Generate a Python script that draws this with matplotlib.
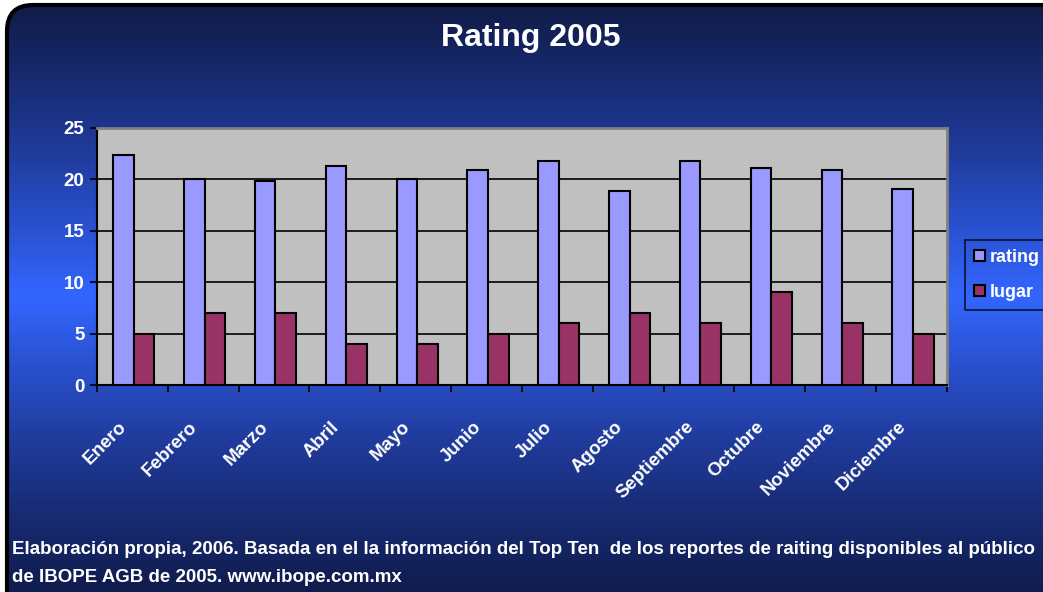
import numpy as np
import matplotlib.pyplot as plt
from matplotlib.colors import LinearSegmentedColormap
from matplotlib.patches import FancyBboxPatch

meses = ["Enero", "Febrero", "Marzo", "Abril", "Mayo", "Junio", "Julio",
         "Agosto", "Septiembre", "Octubre", "Noviembre", "Diciembre"]
rating = [22.4, 20.0, 19.8, 21.3, 20.0, 20.9, 21.8, 18.9, 21.8, 21.1, 20.9, 19.1]
lugar = [5, 7, 7, 4, 4, 5, 6, 7, 6, 9, 6, 5]

plt.rcParams['font.family'] = ['Liberation Sans', 'DejaVu Sans']
plt.rcParams['font.weight'] = 'bold'

fig = plt.figure(figsize=(10.43, 5.92), dpi=100, facecolor='white')
W, H = 1043, 592

# fondo con degradado y borde redondeado
bg = fig.add_axes([0, 0, 1, 1], zorder=-10)
bg.set_xlim(0, W)
bg.set_ylim(0, H)
bg.axis('off')
cmap = LinearSegmentedColormap.from_list(
    "fondo", [(0, "#101a44"), (0.25, "#1f3a99"), (0.5, "#3366ff"),
              (0.75, "#1f3a99"), (1, "#101c4c")])
grad = np.linspace(0, 1, 256).reshape(-1, 1)
caja = FancyBboxPatch((7, -40), W + 40, H + 40 - 5,
                      boxstyle="round,pad=0,rounding_size=26",
                      facecolor='none', edgecolor='black', linewidth=3,
                      transform=bg.transData, zorder=3)
bg.add_patch(caja)
img = bg.imshow(grad, cmap=cmap, aspect='auto', extent=[0, W, 0, H],
                origin='upper', zorder=1)
img.set_clip_path(caja)

ax = fig.add_axes([97 / W, 1 - 385 / H, (947 - 97) / W, (385 - 128) / H])
ax.set_facecolor('#c0c0c0')
x = np.arange(len(meses))
w = 0.29
ax.bar(x - w / 2 + 0.02, rating, w, color='#9999ff', edgecolor='black',
       linewidth=1.5, label='rating', zorder=3)
ax.bar(x + w / 2 + 0.02, lugar, w, color='#993366', edgecolor='black',
       linewidth=1.5, label='lugar', zorder=3)

ax.set_xlim(-0.5, len(meses) - 0.5)
ax.set_ylim(0, 25)
ax.set_yticks([0, 5, 10, 15, 20, 25])
ax.yaxis.grid(True, color='black', linewidth=1.2, zorder=1)
ax.set_axisbelow(True)
ax.set_xticks(np.arange(-0.5, len(meses)), minor=False)
ax.set_xticklabels([])
# etiquetas un poco a la izquierda del centro de cada grupo
ax.set_xticks(x - 0.2, minor=True)
ax.set_xticklabels(meses, minor=True, rotation=45, ha='right',
                   rotation_mode='anchor', color='white', fontsize=13.5,
                   fontweight='bold')
ax.tick_params(axis='x', which='minor', length=0, pad=24)
ax.tick_params(axis='x', which='major', length=5, color='black', width=1.2)
ax.tick_params(axis='y', length=5, color='black', width=1.2, labelcolor='white',
               labelsize=13.5, pad=4)
for t in ax.get_yticklabels():
    t.set_fontweight('bold')
for s in ['left', 'bottom']:
    ax.spines[s].set_color('black')
    ax.spines[s].set_linewidth(1.5)
for s in ['top', 'right']:
    ax.spines[s].set_color('#808080')
    ax.spines[s].set_linewidth(2)

leg = fig.legend(loc='upper left', bbox_to_anchor=(965 / W, 1 - 240 / H),
                 frameon=True, fontsize=13, handlelength=0.6, handleheight=0.6,
                 labelspacing=1.0, borderpad=0.5, borderaxespad=0,
                 handletextpad=0.25)
leg.get_frame().set_facecolor('none')
leg.get_frame().set_edgecolor('black')
leg.get_frame().set_linewidth(1.2)
leg.get_frame().set_boxstyle('square', pad=0)
for t in leg.get_texts():
    t.set_color('white')
    t.set_fontweight('bold')

fig.text(531 / W, 1 - 38 / H, "Rating 2005", ha='center', va='center',
         color='white', fontsize=23, fontweight='bold')

nota1 = ("Elaboración propia, 2006. Basada en el la información del Top Ten  de los "
         "reportes de raiting disponibles al público")
nota2 = "de IBOPE AGB de 2005. www.ibope.com.mx"
fig.text(12 / W, 1 - 550 / H, nota1, ha='left', va='center', color='white',
         fontsize=13.5, fontweight='bold')
fig.text(12 / W, 1 - 578 / H, nota2, ha='left', va='center', color='white',
         fontsize=13.5, fontweight='bold')

fig.savefig("out.png", dpi=100, facecolor='white')
